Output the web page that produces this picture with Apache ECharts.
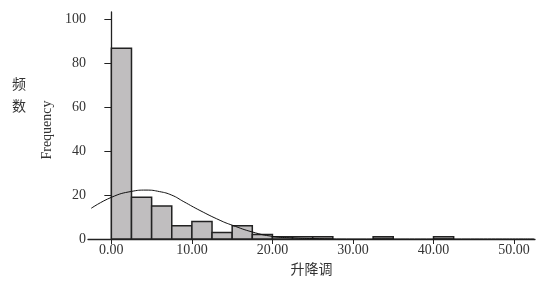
<!DOCTYPE html>
<html>
<head>
<meta charset="utf-8">
<script src="https://cdn.jsdelivr.net/npm/echarts@6/dist/echarts.min.js"></script>
<style>
  html, body { margin: 0; padding: 0; background: #fff; }
  #chart { width: 548px; height: 285px; }
</style>
</head>
<body>
<div id="chart"></div>
<script>
// histogram bins (start of each 2.5-wide bin) and counts
var binStart = [0, 2.5, 5, 7.5, 10, 12.5, 15, 17.5, 20, 22.5, 25, 32.5, 40];
var binCount = [87, 19, 15, 6, 8, 3, 6, 2, 1, 1, 1, 1, 1];
var binWidth = 2.5;

// normal curve
var curveX = [-2.5, 0, 2.5, 4.3, 6, 7.5, 9, 11, 13.5, 15, 17.5, 20, 22.5, 25, 30, 40, 52.5];
var curveY = [14, 19, 21.7, 22.3, 21.6, 20, 17, 13, 8.5, 6.3, 3.2, 1.2, 0.5, 0.2, 0, 0, 0];

var xTicks = [0, 10, 20, 30, 40, 50];
var yTicks = [0, 20, 40, 60, 80, 100];

var serif = '"Liberation Serif", "DejaVu Serif", serif';
var cjk = '"Noto Sans CJK SC", sans-serif';

var barData = binStart.map(function (s, i) { return [s, s + binWidth, binCount[i]]; });
var curveData = curveX.map(function (x, i) { return [x, curveY[i]]; });

var chart = echarts.init(document.getElementById('chart'));
chart.setOption({
    animation: false,
    grid: { left: 88, right: 13, top: 12, bottom: 46 },
    xAxis: {
        type: 'value',
        min: -2.9,
        max: 52.6,
        name: '升降调',
        nameLocation: 'middle',
        nameGap: 22,
        nameTextStyle: { fontFamily: cjk, fontSize: 14, color: '#333' },
        splitLine: { show: false },
        axisLine: { lineStyle: { color: '#222', width: 1.3 } },
        axisTick: { show: true, length: 5, lineStyle: { color: '#222' }, customValues: xTicks },
        axisLabel: {
            customValues: xTicks,
            margin: 4,
            fontFamily: serif, fontSize: 14, color: '#333',
            formatter: function (v) { return v.toFixed(2); }
        }
    },
    yAxis: {
        type: 'value',
        min: 0,
        max: 103.5,
        splitLine: { show: false },
        axisLine: { show: true, lineStyle: { color: '#222', width: 1.3 } },
        axisTick: { show: true, length: 7, lineStyle: { color: '#222' }, customValues: yTicks },
        axisLabel: {
            customValues: yTicks,
            margin: 2,
            fontFamily: serif, fontSize: 14, color: '#333'
        }
    },
    graphic: [
        { type: 'text', left: 12, top: 77,
          style: { text: '频', fontFamily: cjk, fontSize: 14, fill: '#333' } },
        { type: 'text', left: 12, top: 99,
          style: { text: '数', fontFamily: cjk, fontSize: 14, fill: '#333' } },
        { type: 'text', x: 47, y: 130, rotation: Math.PI / 2,
          style: { text: 'Frequency', fontFamily: serif, fontSize: 14, fill: '#333',
                   align: 'center', verticalAlign: 'middle' } }
    ],
    series: [
        {
            type: 'custom',
            data: barData,
            renderItem: function (params, api) {
                var p0 = api.coord([api.value(0), api.value(2)]);
                var p1 = api.coord([api.value(1), 0]);
                var fill = api.value(0) === 32.5 ? '#9a9899' : '#c0bebf';
                return {
                    type: 'rect',
                    shape: { x: p0[0], y: p0[1], width: p1[0] - p0[0], height: p1[1] - p0[1] },
                    style: { fill: fill, stroke: '#222', lineWidth: 1.5 }
                };
            }
        },
        {
            type: 'line',
            data: curveData,
            smooth: true,
            showSymbol: false,
            lineStyle: { color: '#111', width: 1 },
            z: 5
        }
    ]
});
</script>
</body>
</html>
